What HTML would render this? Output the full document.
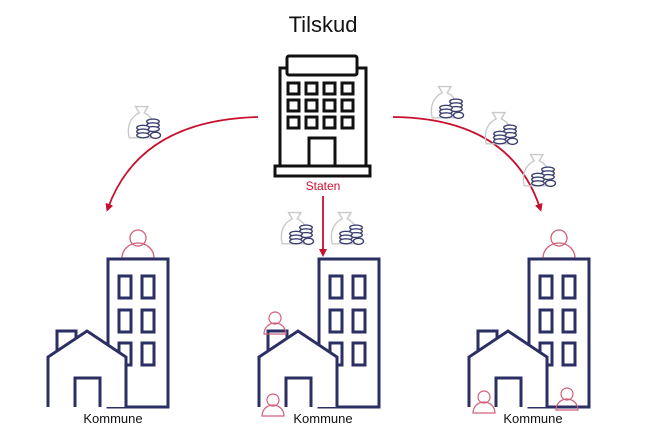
<!DOCTYPE html>
<html><head><style>body{margin:0;background:#fff}svg{display:block}</style></head><body>
<svg width="647" height="434" viewBox="0 0 647 434" xmlns="http://www.w3.org/2000/svg">
<defs>
<marker id="ah" markerWidth="8" markerHeight="8" refX="4" refY="4" orient="auto" markerUnits="userSpaceOnUse"><path d="M0,0 L8,4 L0,8 z" fill="#c8102e"/></marker>
<g id="m0">
<path d="M-6,-14 h10 l-3,5 c8,4 10,12 8,20 h-20 c-2,-8 0,-16 8,-20 z" fill="none" stroke="#c9c9c9" stroke-width="1.1"/>
<g fill="#fff" stroke="#3a3f6e" stroke-width="1.1">
<ellipse cx="8" cy="-2" rx="5" ry="2"/><ellipse cx="8" cy="1" rx="5" ry="2"/><ellipse cx="8" cy="4" rx="5" ry="2"/>
<ellipse cx="0" cy="3" rx="5" ry="2"/><ellipse cx="0" cy="6" rx="5" ry="2"/><ellipse cx="0" cy="9" rx="5" ry="2"/>
<ellipse cx="10" cy="9" rx="4" ry="2.5"/>
</g>
</g>
<g id="money"><use href="#m0" transform="scale(1.25)"/></g>
<g id="town" fill="none" stroke="#2b2f63" stroke-width="3">
<rect x="108" y="259" width="60" height="148"/>
<rect x="119" y="276" width="12" height="22"/><rect x="142" y="276" width="12" height="22"/>
<rect x="119" y="310" width="12" height="22"/><rect x="142" y="310" width="12" height="22"/>
<rect x="119" y="343" width="12" height="22"/><rect x="142" y="343" width="12" height="22"/>
<path d="M48,407 V357 L87,331 L126,357 V407" fill="#fff"/>
<path d="M57,351 V331 H76 V338"/>
<path d="M75,407 V378 H100 V407"/>
</g>
<g id="person" fill="none" stroke="#d0607a" stroke-width="1.2">
<circle cx="0" cy="-12" r="6"/><path d="M-11,4 A11,11 0 0 1 11,4 Z"/>
</g>
<g id="bigperson" fill="none" stroke="#d0607a" stroke-width="1.3">
<circle cx="0" cy="-20" r="8"/><path d="M-16,0 A16,15 0 0 1 16,0 Z"/>
</g>
</defs>
<text x="323" y="32" text-anchor="middle" font-family="Liberation Sans, sans-serif" font-size="22" fill="#111">Tilskud</text>
<g fill="none" stroke="#111" stroke-width="3">
<rect x="287" y="56" width="70" height="19" rx="2"/>
<path d="M287,68 H280 V166 M357,68 H366 V166"/>
<rect x="275" y="166" width="95" height="10"/>
<g>
<rect x="288" y="83" width="11" height="11"/><rect x="306" y="83" width="11" height="11"/><rect x="324" y="83" width="11" height="11"/><rect x="342" y="83" width="11" height="11"/>
<rect x="288" y="100" width="11" height="11"/><rect x="306" y="100" width="11" height="11"/><rect x="324" y="100" width="11" height="11"/><rect x="342" y="100" width="11" height="11"/>
<rect x="288" y="117" width="11" height="11"/><rect x="306" y="117" width="11" height="11"/><rect x="324" y="117" width="11" height="11"/><rect x="342" y="117" width="11" height="11"/>
</g>
<rect x="309" y="138" width="26" height="28"/>
</g>
<text x="323" y="190" text-anchor="middle" font-family="Liberation Sans, sans-serif" font-size="12" fill="#c8102e">Staten</text>
<g fill="none" stroke="#c8102e" stroke-width="1.8">
<path d="M258,117 Q140,120 108,208" marker-end="url(#ah)"/>
<path d="M393,117 Q510,118 540,208" marker-end="url(#ah)"/>
<path d="M323,196 V253" marker-end="url(#ah)"/>
</g>
<use href="#money" x="143" y="124"/>
<use href="#money" x="296" y="230"/>
<use href="#money" x="346" y="230"/>
<use href="#money" x="446" y="104"/>
<use href="#money" x="500" y="130"/>
<use href="#money" x="538" y="172"/>
<use href="#bigperson" x="138" y="258"/>
<use href="#bigperson" x="559" y="258"/>
<use href="#town"/>
<use href="#town" x="211"/>
<use href="#town" x="421"/>
<use href="#person" x="275" y="330"/>
<use href="#person" x="273" y="412"/>
<use href="#person" x="484" y="409"/>
<use href="#person" x="567" y="406"/>
<g font-family="Liberation Sans, sans-serif" font-size="13" fill="#111" text-anchor="middle">
<text x="113" y="423">Kommune</text><text x="323" y="423">Kommune</text><text x="533" y="423">Kommune</text>
</g>
</svg>
</body></html>
